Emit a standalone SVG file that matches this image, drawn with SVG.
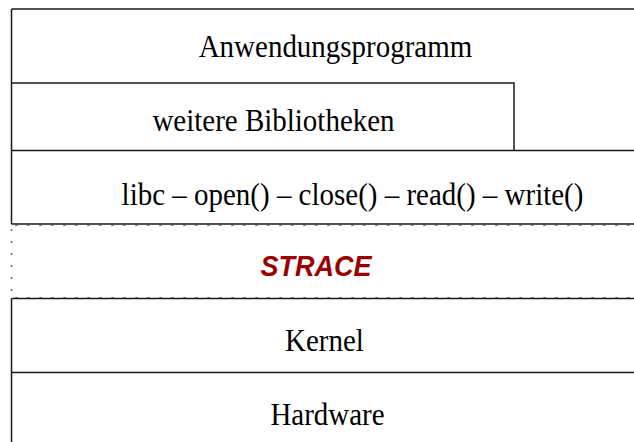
<svg xmlns="http://www.w3.org/2000/svg" width="634" height="442" viewBox="0 0 634 442">
  <style>
    .edge { stroke: #1a1a1a; stroke-width: 1.5; fill: none; }
    .dash { stroke: #8a8a8a; stroke-width: 1; stroke-dasharray: 3 9; fill: none; }
    .dots { stroke: #6a6a6a; stroke-width: 1.5; stroke-dasharray: 2 10; fill: none; }
    .lbl { font-family: "Liberation Serif", "Times New Roman", serif; font-size: 31px; fill: #000; text-anchor: middle; }
    .hook { font-family: "Liberation Sans", Arial, sans-serif; font-size: 30px; font-weight: bold; font-style: italic; fill: #990000; text-anchor: middle; }
  </style>
  <rect width="634" height="442" fill="#fff"/>

  <!-- layer stack, top to bottom; labels are slightly narrowed -->
  <g id="anwendungsprogramm">
    <path class="edge" d="M11.5 9 H634 M11.5 9 V83"/>
    <text class="lbl" transform="translate(335.5 57) scale(0.935 1)">Anwendungsprogramm</text>
  </g>

  <g id="bibliotheken">
    <path class="edge" d="M11.5 83 H514 V150.5 M11.5 83 V150.5"/>
    <text class="lbl" transform="translate(273.5 131) scale(0.935 1)">weitere Bibliotheken</text>
  </g>

  <g id="libc">
    <path class="edge" d="M11.5 150.5 H634 M11.5 150.5 V224 M11.5 224 H634"/>
    <text class="lbl" transform="translate(352.5 205) scale(0.935 1)">libc – open() – close() – read() – write()</text>
  </g>

  <g id="strace">
    <path class="dash" d="M15 225.5 H634 M15 297.5 H634"/>
    <path class="dots" d="M11.5 229 V298"/>
    <text class="hook" transform="translate(316 276) scale(0.9 1)">STRACE</text>
  </g>

  <g id="kernel">
    <path class="edge" d="M11.5 298.5 H634 M11.5 298.5 V372.5"/>
    <text class="lbl" transform="translate(324.5 351) scale(0.935 1)">Kernel</text>
  </g>

  <g id="hardware">
    <path class="edge" d="M11.5 372.5 H634 M11.5 372.5 V442"/>
    <text class="lbl" transform="translate(327.5 425) scale(0.935 1)">Hardware</text>
  </g>
</svg>
